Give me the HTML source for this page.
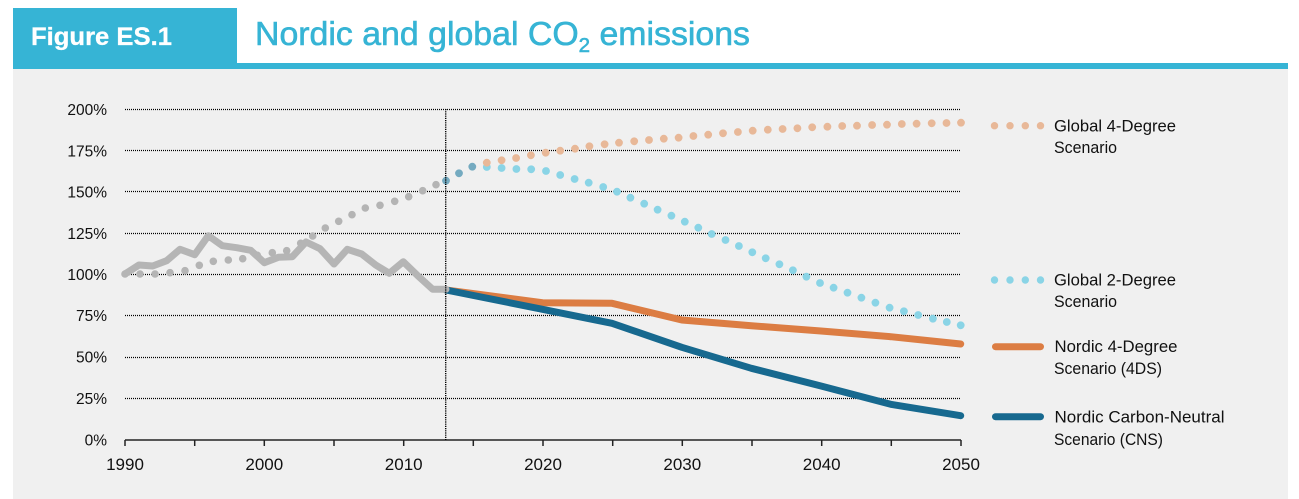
<!DOCTYPE html>
<html><head><meta charset="utf-8"><style>
html,body{margin:0;padding:0;background:#fff;}
svg{display:block;}
text{font-family:"Liberation Sans",sans-serif;}
</style></head><body>
<svg width="1299" height="499" viewBox="0 0 1299 499" xmlns="http://www.w3.org/2000/svg">
<rect x="0" y="0" width="1299" height="499" fill="#ffffff"/>
<rect x="13" y="69" width="1275" height="430" fill="#f0f0f0"/>
<rect x="13" y="63" width="1275" height="6" fill="#36b4d5"/>
<rect x="13" y="8" width="224" height="61" fill="#36b4d5"/>
<text x="31" y="45" font-size="25" font-weight="bold" fill="#ffffff" stroke="#ffffff" stroke-width="0.3" textLength="141" lengthAdjust="spacingAndGlyphs">Figure ES.1</text>
<text x="255" y="45" font-size="33" fill="#36b4d5" stroke="#36b4d5" stroke-width="0.6" textLength="495" lengthAdjust="spacingAndGlyphs">Nordic and global CO<tspan font-size="20" dy="7">2</tspan><tspan dy="-7"> emissions</tspan></text>

<!-- grid -->
<g stroke="#000" stroke-width="1.2" stroke-dasharray="1 1" fill="none">
<line x1="125" y1="109.5" x2="961" y2="109.5"/>
<line x1="125" y1="150.5" x2="961" y2="150.5"/>
<line x1="125" y1="191.5" x2="961" y2="191.5"/>
<line x1="125" y1="233.5" x2="961" y2="233.5"/>
<line x1="125" y1="274.5" x2="961" y2="274.5"/>
<line x1="125" y1="315.5" x2="961" y2="315.5"/>
<line x1="125" y1="357.5" x2="961" y2="357.5"/>
<line x1="125" y1="398.5" x2="961" y2="398.5"/>
</g>
<!-- axis -->
<g stroke="#222" stroke-width="1.5" fill="none">
<line x1="125" y1="440" x2="961" y2="440"/>
<line x1="125" y1="440" x2="125" y2="446"/>
<line x1="194.7" y1="440" x2="194.7" y2="446"/>
<line x1="264.3" y1="440" x2="264.3" y2="446"/>
<line x1="334" y1="440" x2="334" y2="446"/>
<line x1="403.7" y1="440" x2="403.7" y2="446"/>
<line x1="473.3" y1="440" x2="473.3" y2="446"/>
<line x1="543" y1="440" x2="543" y2="446"/>
<line x1="612.7" y1="440" x2="612.7" y2="446"/>
<line x1="682.3" y1="440" x2="682.3" y2="446"/>
<line x1="752" y1="440" x2="752" y2="446"/>
<line x1="821.7" y1="440" x2="821.7" y2="446"/>
<line x1="891.3" y1="440" x2="891.3" y2="446"/>
<line x1="961" y1="440" x2="961" y2="446"/>
</g>
<!-- y labels -->
<g font-size="15.5" fill="#111" text-anchor="end">
<text x="107" y="115">200%</text>
<text x="107" y="156.5">175%</text>
<text x="107" y="197.5">150%</text>
<text x="107" y="239">125%</text>
<text x="107" y="280">100%</text>
<text x="107" y="321">75%</text>
<text x="107" y="362.5">50%</text>
<text x="107" y="404">25%</text>
<text x="107" y="445.5">0%</text>
</g>
<!-- x labels -->
<g font-size="17" fill="#111" text-anchor="middle">
<text x="125" y="470">1990</text>
<text x="264.3" y="470">2000</text>
<text x="403.7" y="470">2010</text>
<text x="543" y="470">2020</text>
<text x="682.3" y="470">2030</text>
<text x="821.7" y="470">2040</text>
<text x="961" y="470">2050</text>
</g>

<!-- grey global historic dots -->
<g fill="#b4b4b4">
<circle cx="125" cy="274" r="3.8"/><circle cx="140" cy="274" r="3.8"/><circle cx="155" cy="274" r="3.8"/><circle cx="170" cy="272.7" r="3.8"/><circle cx="185" cy="270.7" r="3.8"/><circle cx="199.3" cy="265.3" r="3.8"/><circle cx="213.3" cy="261.3" r="3.8"/><circle cx="228.3" cy="260" r="3.8"/><circle cx="242.7" cy="258.7" r="3.8"/><circle cx="257.3" cy="255.3" r="3.8"/><circle cx="272.3" cy="252.7" r="3.8"/><circle cx="286.7" cy="250.7" r="3.8"/><circle cx="300.7" cy="243.3" r="3.8"/><circle cx="312.7" cy="236" r="3.8"/><circle cx="325.3" cy="228" r="3.8"/><circle cx="338.7" cy="221.3" r="3.8"/><circle cx="352" cy="214.7" r="3.8"/><circle cx="365.3" cy="208" r="3.8"/><circle cx="380" cy="205.3" r="3.8"/><circle cx="394.7" cy="201.3" r="3.8"/><circle cx="408.7" cy="196.7" r="3.8"/><circle cx="422.7" cy="190.7" r="3.8"/><circle cx="436" cy="184.7" r="3.8"/>
</g>
<!-- overlap dots -->
<g fill="#74aac0">
<circle cx="446" cy="180.7" r="3.9"/><circle cx="459" cy="173.3" r="3.9"/><circle cx="472.3" cy="166.7" r="3.9"/>
</g>
<!-- global 2DS -->
<g fill="#8ad4e6">
<circle cx="486.8" cy="167" r="3.9"/><circle cx="501.6" cy="168" r="3.9"/><circle cx="516.4" cy="169" r="3.9"/><circle cx="531.2" cy="169.3" r="3.9"/><circle cx="546" cy="171" r="3.9"/><circle cx="560.2" cy="175" r="3.9"/><circle cx="574.6" cy="179" r="3.9"/><circle cx="588.7" cy="182.7" r="3.9"/><circle cx="603.2" cy="187" r="3.9"/><circle cx="617" cy="191.7" r="3.9"/><circle cx="630.4" cy="197.7" r="3.9"/><circle cx="644.2" cy="203.7" r="3.9"/><circle cx="657.6" cy="209.7" r="3.9"/><circle cx="671.4" cy="215.7" r="3.9"/><circle cx="684.8" cy="221.7" r="3.9"/><circle cx="698.3" cy="227.7" r="3.9"/><circle cx="711.7" cy="234" r="3.9"/><circle cx="725.5" cy="240" r="3.9"/><circle cx="738.9" cy="246" r="3.9"/><circle cx="752.3" cy="252.3" r="3.9"/><circle cx="765.7" cy="258.3" r="3.9"/><circle cx="779.4" cy="264.3" r="3.9"/><circle cx="792.9" cy="270.3" r="3.9"/><circle cx="806.4" cy="276.7" r="3.9"/><circle cx="820" cy="283" r="3.9"/><circle cx="833.6" cy="287.7" r="3.9"/><circle cx="847.5" cy="292.7" r="3.9"/><circle cx="861.4" cy="297.7" r="3.9"/><circle cx="875.4" cy="302.7" r="3.9"/><circle cx="889.6" cy="307.7" r="3.9"/><circle cx="903.9" cy="311.3" r="3.9"/><circle cx="918.2" cy="315" r="3.9"/><circle cx="932.9" cy="318.7" r="3.9"/><circle cx="946.8" cy="322" r="3.9"/><circle cx="960.7" cy="325.3" r="3.9"/>
</g>
<!-- global 4DS -->
<g fill="#e8b898">
<circle cx="486.8" cy="162.7" r="3.9"/><circle cx="501.6" cy="160.3" r="3.9"/><circle cx="516.1" cy="158" r="3.9"/><circle cx="530.9" cy="155.3" r="3.9"/><circle cx="545.7" cy="152.7" r="3.9"/><circle cx="560.2" cy="150.7" r="3.9"/><circle cx="575" cy="148.7" r="3.9"/><circle cx="589.4" cy="146.3" r="3.9"/><circle cx="604.6" cy="144.3" r="3.9"/><circle cx="619" cy="142.7" r="3.9"/><circle cx="634.2" cy="141.3" r="3.9"/><circle cx="649" cy="140" r="3.9"/><circle cx="663.8" cy="138.7" r="3.9"/><circle cx="678.6" cy="137.7" r="3.9"/><circle cx="693.4" cy="136" r="3.9"/><circle cx="708.2" cy="134.7" r="3.9"/><circle cx="723" cy="133.3" r="3.9"/><circle cx="737.9" cy="132" r="3.9"/><circle cx="752.7" cy="130.7" r="3.9"/><circle cx="767.8" cy="129.7" r="3.9"/><circle cx="782.6" cy="129" r="3.9"/><circle cx="797.4" cy="128.3" r="3.9"/><circle cx="812.2" cy="127.3" r="3.9"/><circle cx="827.4" cy="126.7" r="3.9"/><circle cx="842.2" cy="126" r="3.9"/><circle cx="857" cy="125.7" r="3.9"/><circle cx="872.1" cy="125" r="3.9"/><circle cx="887" cy="124.7" r="3.9"/><circle cx="901.8" cy="124" r="3.9"/><circle cx="916.6" cy="123.7" r="3.9"/><circle cx="931.7" cy="123.3" r="3.9"/><circle cx="946.5" cy="123" r="3.9"/><circle cx="961" cy="122.7" r="3.9"/>
</g>

<!-- Nordic lines -->
<g fill="none" stroke-width="7" stroke-linecap="round" stroke-linejoin="round">
<polyline stroke="#dc7d43" points="446,290 542.5,302.7 612,303.3 681.8,320 751.4,325.7 821,331 890.7,336.7 960.7,344"/>
<polyline stroke="#17698f" points="446,290 542.5,309.3 612,323.3 681.8,347.3 751.4,368.3 821,386 890.7,404.3 960.7,415.7"/>
<polyline stroke="#b5b5b5" points="125,274 139,265 152.7,266 166.7,260.7 180,249.3 194.7,254.7 208.3,235.7 222.3,245.7 236.7,247.7 250.7,250.3 264.3,262.7 278.3,257.3 292.3,256.7 306,242 320,248.7 334,264 347.3,249.3 361.7,254 375.7,265 389.3,273.3 403.3,261.7 417.3,275.3 432.7,289.3 446,289.3"/>
</g>

<!-- 2013 vertical line -->
<line x1="445.7" y1="109" x2="445.7" y2="440" stroke="#000" stroke-width="1.4" stroke-dasharray="1.2 1"/>

<!-- legend -->
<g fill="#e8b898">
<circle cx="994.5" cy="125.7" r="3.7"/><circle cx="1010" cy="125.7" r="3.7"/><circle cx="1025.3" cy="125.7" r="3.7"/><circle cx="1040.5" cy="125.7" r="3.7"/>
</g>
<g fill="#8ad4e6">
<circle cx="994.5" cy="280" r="3.7"/><circle cx="1010" cy="280" r="3.7"/><circle cx="1025.3" cy="280" r="3.7"/><circle cx="1040.5" cy="280" r="3.7"/>
</g>
<line x1="995.5" y1="346.7" x2="1040.5" y2="346.7" stroke="#dc7d43" stroke-width="7" stroke-linecap="round"/>
<line x1="995.5" y1="416.7" x2="1040.5" y2="416.7" stroke="#17698f" stroke-width="7" stroke-linecap="round"/>
<g font-size="16.5" fill="#111">
<text x="1054" y="131.5" textLength="122" lengthAdjust="spacingAndGlyphs">Global 4-Degree</text>
<text x="1054" y="153" textLength="63" lengthAdjust="spacingAndGlyphs">Scenario</text>
<text x="1054" y="285.5" textLength="122" lengthAdjust="spacingAndGlyphs">Global 2-Degree</text>
<text x="1054" y="307" textLength="63" lengthAdjust="spacingAndGlyphs">Scenario</text>
<text x="1054.5" y="352" textLength="123" lengthAdjust="spacingAndGlyphs">Nordic 4-Degree</text>
<text x="1054" y="374" textLength="108" lengthAdjust="spacingAndGlyphs">Scenario (4DS)</text>
<text x="1054.5" y="422.5" textLength="170" lengthAdjust="spacingAndGlyphs">Nordic Carbon-Neutral</text>
<text x="1054" y="445" textLength="109" lengthAdjust="spacingAndGlyphs">Scenario (CNS)</text>
</g>
</svg>
</body></html>
